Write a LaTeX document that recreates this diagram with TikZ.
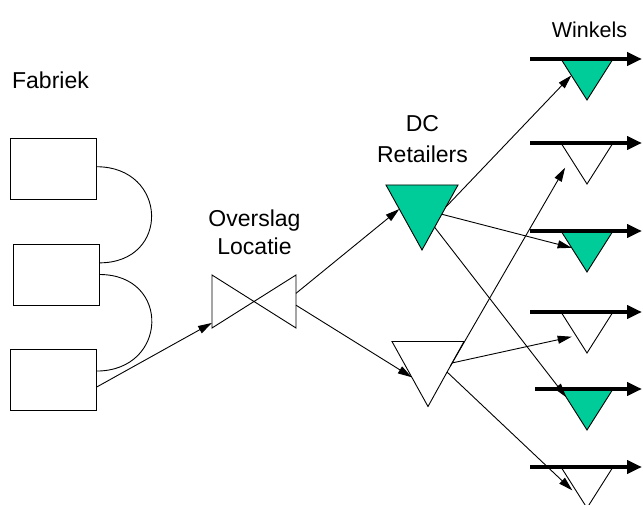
\documentclass[tikz,border=0pt]{standalone}
\usepackage{fontspec}
\setmainfont{Liberation Sans}
\usetikzlibrary{arrows.meta,calc}

\definecolor{dcgroen}{HTML}{00CC99}

\tikzset{
  fabriek/.style={draw, line width=0.9pt, minimum width=86pt, minimum height=61pt, inner sep=0pt},
  knoop/.style={inner sep=0pt, outer sep=0pt},
  dc/.style={knoop, minimum width=72pt, minimum height=65pt},
  winkel/.style={knoop, minimum width=52pt, minimum height=41pt},
  tekst/.style={font=\fontsize{23}{28}\selectfont, align=center, inner sep=0pt},
  pijl/.style={-{Triangle[length=14pt,width=8pt]}, line width=0.9pt},
  rij/.style={-{Triangle[length=15pt,width=13pt]}, line width=4.2pt},
}

\begin{document}
\begin{tikzpicture}[x=1pt, y=-1pt]
  \useasboundingbox (0,0) rectangle (643,505);

  % labels
  \node [tekst] (fab) at (50.5,80.5)  {Fabriek};
  \node [tekst] (ovl) at (254.5,232.5) {Overslag\\Locatie};
  \node [tekst, font=\fontsize{23}{31.5}\selectfont] (dcl) at (422.5,139) {DC\\Retailers};
  \node [tekst, font=\fontsize{21.5}{26}\selectfont] (wnk) at (589.5,30) {Winkels};

  % fabriek
  \node [fabriek] (b1) at (53,169)    {};
  \node [fabriek] (b2) at (56,274.5)  {};
  \node [fabriek] (b3) at (53,379.5)  {};

  \draw [line width=0.9pt] (b1.3) to [out=0,in=0,looseness=1.9] (b2.15);
  \draw [line width=0.9pt] (b2.east) to [out=0,in=0,looseness=1.9] (b3.11);

  % overslag
  \node [knoop, minimum width=84pt, minimum height=53pt] (ov) at (254,301.5) {};
  \draw [line width=0.9pt] (ov.north west) -- (ov.south east) -- (ov.north east) -- (ov.south west) -- cycle;

  % dc en winkels
  \node [dc] (dcg) at (422,217.5) {};
  \node [dc] (dcw) at (428,374)   {};
  \foreach \n/\y in {w1/59, w2/143, w3/231, w4/312, w5/389, w6/467}
    \node [winkel, anchor=north] (\n) at (587,\y) {};

  \foreach \n in {dcg,w1,w3,w5}
    \filldraw [fill=dcgroen, line width=0.9pt] (\n.north west) -- (\n.north east) -- (\n.south) -- cycle;
  \foreach \n in {dcw,w2,w4,w6}
    \filldraw [fill=white, line width=0.9pt] (\n.north west) -- (\n.north east) -- (\n.south) -- cycle;

  \foreach \n/\s in {w1/31, w2/31, w3/31, w4/31, w5/26, w6/31}
    \draw [rij] ([xshift=-\s pt]\n.north west) -- ([xshift=29pt]\n.north east);

  % stromen
  \draw [pijl] (b3.-10) -- (ov.207);
  \draw [pijl] (ov.11) -- ($(dcg.north west)!0.37!(dcg.south)$);
  \draw [pijl] (ov.-5) -- ($(dcw.north west)!0.55!(dcw.south)$);

  \draw [pijl] ($(dcg.north east)!0.34!(dcg.south)$) -- ($(w1.north west)!0.40!(w1.south)$);
  \draw [pijl] ($(dcg.north east)!0.45!(dcg.south)$) -- ($(w3.north west)!0.41!(w3.south)$);
  \draw [pijl] ($(dcg.north east)!0.65!(dcg.south)$) -- ($(w5.north west)!0.2!(w5.south)$);
  \draw [pijl, shorten >=11pt] ($(dcw.north east)!0.38!(dcw.south)$) -- ($(w2.north west)!0.37!(w2.south)$);
  \draw [pijl, shorten >=4.5pt] ($(dcw.north east)!0.33!(dcw.south)$) -- ($(w4.north west)!0.58!(w4.south)$);
  \draw [pijl, shorten >=12pt] ($(dcw.north east)!0.47!(dcw.south)$) -- ($(w6.north west)!0.77!(w6.south)$);
\end{tikzpicture}
\end{document}
